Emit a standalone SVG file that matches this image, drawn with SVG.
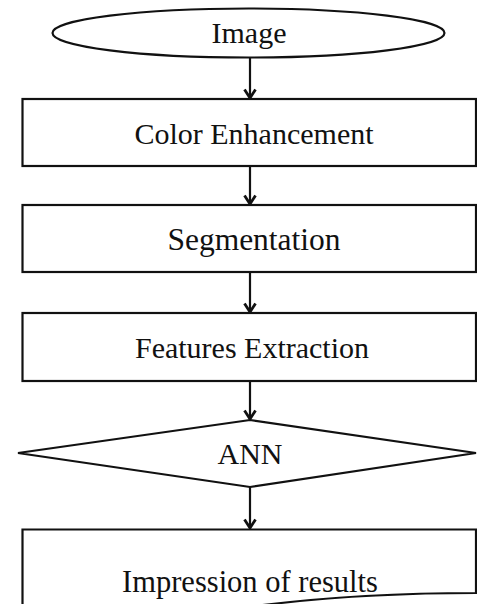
<svg xmlns="http://www.w3.org/2000/svg" width="477" height="604" viewBox="0 0 477 604">
  <style>
    .shape { fill: #ffffff; stroke: #111111; stroke-width: 2.2; }
    .label { font-family: "Liberation Serif", "Times New Roman", serif; font-size: 30px; fill: #111111; text-anchor: middle; }
    .link { fill: none; stroke: #111111; stroke-width: 2.2; marker-end: url(#arrow); }
  </style>
  <defs>
    <!-- open chevron head, drawn along +x so orient="auto" turns it down the line -->
    <marker id="arrow" viewBox="0 0 14 14" refX="12.5" refY="7" markerWidth="14" markerHeight="14" markerUnits="userSpaceOnUse" orient="auto">
      <path d="M4,1.5 L12.5,7 L4,12.5" fill="none" stroke="#111111" stroke-width="2.8"/>
    </marker>
  </defs>
  <rect width="477" height="604" fill="#ffffff"/>

  <g id="connectors">
    <line class="link" x1="250" y1="58" x2="250" y2="98"/>
    <line class="link" x1="250" y1="166" x2="250" y2="204"/>
    <line class="link" x1="250" y1="272" x2="250" y2="312"/>
    <line class="link" x1="250" y1="381" x2="250" y2="419"/>
    <line class="link" x1="250" y1="487" x2="250" y2="528"/>
  </g>

  <g id="image">
    <ellipse class="shape" cx="248.5" cy="33" rx="196" ry="24.5"/>
    <text class="label" x="249" y="43">Image</text>
  </g>

  <g id="color-enhancement">
    <rect class="shape" x="22.5" y="99" width="453.5" height="67"/>
    <text class="label" x="254" y="144">Color Enhancement</text>
  </g>

  <g id="segmentation">
    <rect class="shape" x="22.5" y="205" width="453.5" height="67"/>
    <text class="label" x="254" y="250" style="font-size: 31.5px">Segmentation</text>
  </g>

  <g id="features-extraction">
    <rect class="shape" x="22.5" y="313" width="453.5" height="68"/>
    <text class="label" x="252" y="358">Features Extraction</text>
  </g>

  <g id="ann">
    <polygon class="shape" points="250,420 476,453 250,487 18,453"/>
    <text class="label" x="250" y="464">ANN</text>
  </g>

  <g id="impression-of-results">
    <path class="shape" d="M22.5,612 V529.5 H476 V593 C410,593 320,597 240,608 L22.5,612 Z"/>
    <text class="label" x="250" y="592" style="font-size: 30.5px">Impression of results</text>
  </g>
</svg>
